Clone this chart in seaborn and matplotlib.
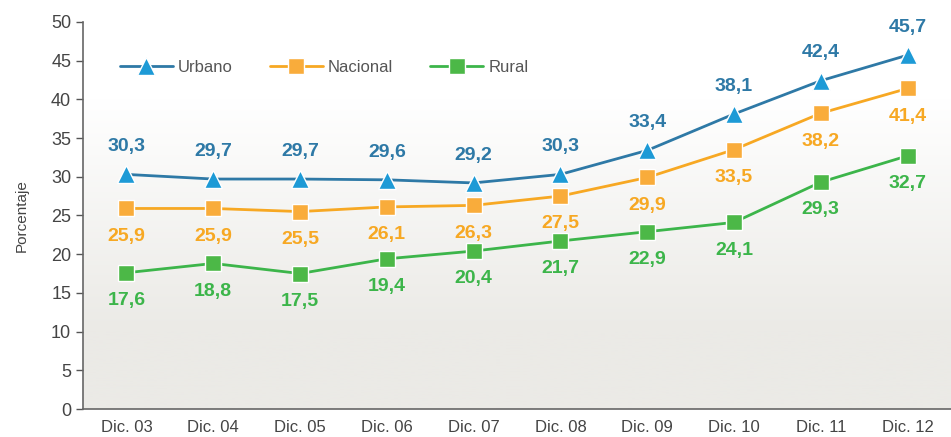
import numpy as np
import pandas as pd
import matplotlib.pyplot as plt
from matplotlib.ticker import FixedLocator, NullFormatter
from matplotlib.colors import LinearSegmentedColormap
import seaborn as sns

years = ['Dic. 03', 'Dic. 04', 'Dic. 05', 'Dic. 06', 'Dic. 07',
         'Dic. 08', 'Dic. 09', 'Dic. 10', 'Dic. 11', 'Dic. 12']
urbano = [30.3, 29.7, 29.7, 29.6, 29.2, 30.3, 33.4, 38.1, 42.4, 45.7]
nacional = [25.9, 25.9, 25.5, 26.1, 26.3, 27.5, 29.9, 33.5, 38.2, 41.4]
rural = [17.6, 18.8, 17.5, 19.4, 20.4, 21.7, 22.9, 24.1, 29.3, 32.7]

df = pd.DataFrame({'x': np.arange(len(years)), 'Urbano': urbano,
                   'Nacional': nacional, 'Rural': rural})

sns.set_style('white')
plt.rcParams['font.family'] = ['Liberation Sans', 'DejaVu Sans']

fig = plt.figure(figsize=(9.51, 4.37), dpi=100)
ax = fig.add_axes([0.0873, 0.064, 0.9127, 0.886])

# background: white at top fading to light grey at the bottom
grad = np.linspace(0, 1, 256).reshape(-1, 1)
grad = np.clip((grad - 0.2) / 0.6, 0, 1)
cm = LinearSegmentedColormap.from_list('bg', ['#ebeae6', '#ffffff'])
ax.imshow(grad, extent=(-0.5, 9.5, 0, 50), aspect='auto', cmap=cm,
          origin='lower', zorder=0)

series = [
    ('Urbano', '#2e79a6', '#1d9ad6', '^', 13, 20),
    ('Nacional', '#f7a823', '#f9ac3b', 's', 11, -20),
    ('Rural', '#3cb54a', '#4cb847', 's', 11, -20),
]
for name, lc, mc, mk, ms, off in series:
    sns.lineplot(data=df, x='x', y=name, ax=ax, color=lc, lw=2,
                 marker=mk, markersize=ms, markerfacecolor=mc,
                 markeredgecolor='white', markeredgewidth=1, label=name,
                 zorder=3)
    for xi, v in zip(df['x'], df[name]):
        ax.annotate(f'{v:.1f}'.replace('.', ','), (xi, v),
                    xytext=(0, off), textcoords='offset points',
                    ha='center', va='center', fontsize=14,
                    fontweight='bold', color=lc, zorder=4)

ax.set_xlim(-0.5, 9.5)
ax.set_ylim(0, 50)
ax.set_yticks(range(0, 51, 5))
ax.xaxis.set_major_locator(FixedLocator(np.arange(-0.5, 9.6, 1)))
ax.xaxis.set_major_formatter(NullFormatter())
ax.xaxis.set_minor_locator(FixedLocator(np.arange(10)))
ax.set_xticklabels(years, minor=True)
ax.tick_params(axis='x', which='major', length=5, color='#555555', width=1)
ax.tick_params(axis='x', which='minor', length=0, pad=8, labelsize=12,
               labelcolor='#444444')
ax.tick_params(axis='y', length=5, color='#555555', width=1, labelsize=13,
               labelcolor='#444444', left=True)
for s in ['top', 'right']:
    ax.spines[s].set_visible(False)
for s in ['left', 'bottom']:
    ax.spines[s].set_color('#666666')
    ax.spines[s].set_linewidth(1.2)
ax.set_xlabel('')
ax.set_ylabel('Porcentaje', fontsize=11, color='#444444', labelpad=16)

leg = ax.legend(loc='upper left', bbox_to_anchor=(0.025, 0.94), ncol=3,
                frameon=False, fontsize=12, handlelength=3.2,
                columnspacing=2.2, handletextpad=0.3)
for t in leg.get_texts():
    t.set_color('#555555')

fig.savefig('out.png', dpi=100)
